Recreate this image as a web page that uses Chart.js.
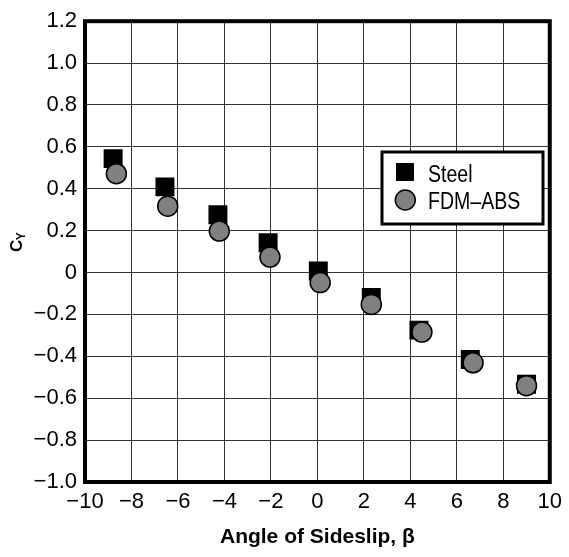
<!DOCTYPE html>
<html><head><meta charset="utf-8">
<script src="https://cdn.jsdelivr.net/npm/chart.js@4.4.1/dist/chart.umd.min.js"></script>
<style>html,body{margin:0;padding:0;background:#fff;} canvas{display:block}</style>
</head><body>
<canvas id="c" width="569" height="557"></canvas>
<script>
const seriesNames = ['Steel', 'FDM–ABS'];
const steelX = [-8.79, -6.56, -4.28, -2.12, 0.04, 2.32, 4.37, 6.58, 9.00];
const steelY = [0.544, 0.409, 0.276, 0.142, 0.007, -0.119, -0.275, -0.415, -0.533];
const absX = [-8.65, -6.44, -4.22, -2.04, 0.12, 2.32, 4.50, 6.70, 9.00];
const absY = [0.472, 0.317, 0.198, 0.074, -0.048, -0.152, -0.284, -0.431, -0.540];
const xTicks = [-10, -8, -6, -4, -2, 0, 2, 4, 6, 8, 10];
const xTickLabels = ['\u221210', '\u22128', '\u22126', '\u22124', '\u22122', '0', '2', '4', '6', '8', '10'];
const yTicks = [-1.0, -0.8, -0.6, -0.4, -0.2, 0, 0.2, 0.4, 0.6, 0.8, 1.0, 1.2];
const yTickLabels = ['\u22121.0', '\u22120.8', '\u22120.6', '\u22120.4', '\u22120.2', '0', '0.2', '0.4', '0.6', '0.8', '1.0', '1.2'];
const xTitle = 'Angle of Sideslip, \u03B2';
const yTitleMain = 'C';
const yTitleSub = 'Y';

const FONT = "'Liberation Sans', Arial, sans-serif";

const toPts = (xs, ys) => xs.map((x, i) => ({x: x, y: ys[i]}));

const framePlugin = {
  id: 'frame',
  afterDraw(chart) {
    const {ctx, chartArea: a} = chart;
    ctx.save();
    // frame
    ctx.strokeStyle = '#000';
    ctx.lineWidth = 4;
    ctx.strokeRect(a.left, a.top, a.right - a.left, a.bottom - a.top);
    // y title with subscript
    ctx.fillStyle = '#000';
    ctx.translate(22, 252);
    ctx.rotate(-Math.PI / 2);
    ctx.textAlign = 'left';
    ctx.textBaseline = 'alphabetic';
    ctx.font = "bold 17px " + FONT;
    ctx.fillText(yTitleMain, 0, 0);
    const w = ctx.measureText(yTitleMain).width;
    ctx.font = "bold 12px " + FONT;
    ctx.fillText(yTitleSub, w - 0.5, 2.5);
    ctx.restore();

    // legend box
    const lx = 382, ly = 152, lw = 161, lh = 72;
    ctx.save();
    ctx.fillStyle = '#fff';
    ctx.fillRect(lx, ly, lw, lh);
    ctx.strokeStyle = '#000';
    ctx.lineWidth = 3;
    ctx.strokeRect(lx, ly, lw, lh);
    // steel marker
    ctx.fillStyle = '#000';
    ctx.fillRect(396, 163, 18, 18);
    // abs marker
    ctx.beginPath();
    ctx.arc(405.3, 200, 10, 0, Math.PI * 2);
    ctx.fillStyle = '#808080';
    ctx.fill();
    ctx.lineWidth = 1.5;
    ctx.strokeStyle = '#000';
    ctx.stroke();
    // labels (condensed look)
    ctx.fillStyle = '#000';
    ctx.font = "23px " + FONT;
    ctx.textAlign = 'left';
    ctx.textBaseline = 'alphabetic';
    ctx.translate(428, 0);
    ctx.scale(0.85, 1);
    ctx.fillText(seriesNames[0], 0, 181.5);
    ctx.fillText(seriesNames[1], 0, 208.5);
    ctx.restore();
  }
};

new Chart(document.getElementById('c'), {
  type: 'scatter',
  data: {
    datasets: [
      {
        label: seriesNames[0],
        data: toPts(steelX, steelY),
        pointStyle: 'rect',
        radius: 13.4,
        backgroundColor: '#000',
        borderColor: '#000',
        borderWidth: 0,
        order: 2
      },
      {
        label: seriesNames[1],
        data: toPts(absX, absY),
        pointStyle: 'circle',
        radius: 10,
        backgroundColor: '#808080',
        borderColor: '#000',
        borderWidth: 1.5,
        order: 1
      }
    ]
  },
  options: {
    responsive: false,
    animation: false,
    events: [],
    layout: { padding: { top: 17, right: 16, left: 0, bottom: 0 } },
    plugins: { legend: { display: false }, tooltip: { enabled: false } },
    scales: {
      x: {
        type: 'linear',
        min: -10, max: 10,
        afterBuildTicks: s => { s.ticks = xTicks.map(v => ({value: v})); },
        afterFit: s => { s.height = 75; },
        grid: { color: '#333', lineWidth: 1, drawTicks: false },
        border: { display: false },
        ticks: {
          autoSkip: false, maxRotation: 0, padding: 7,
          color: '#000',
          font: { family: FONT, size: 22 },
          callback: (v, i) => xTickLabels[i]
        },
        title: {
          display: true, text: xTitle, color: '#000',
          font: { family: FONT, size: 21, weight: 'bold' },
          padding: { top: 0, bottom: 7 }
        }
      },
      y: {
        type: 'linear',
        min: -1.0, max: 1.2,
        afterBuildTicks: s => { s.ticks = yTicks.map(v => ({value: v})); },
        afterFit: s => { s.width = 85; },
        grid: { color: '#333', lineWidth: 1, drawTicks: false },
        border: { display: false },
        ticks: {
          autoSkip: false, padding: 8,
          color: '#000',
          font: { family: FONT, size: 22 },
          callback: (v, i) => yTickLabels[i]
        }
      }
    }
  },
  plugins: [framePlugin]
});
</script>
</body></html>
